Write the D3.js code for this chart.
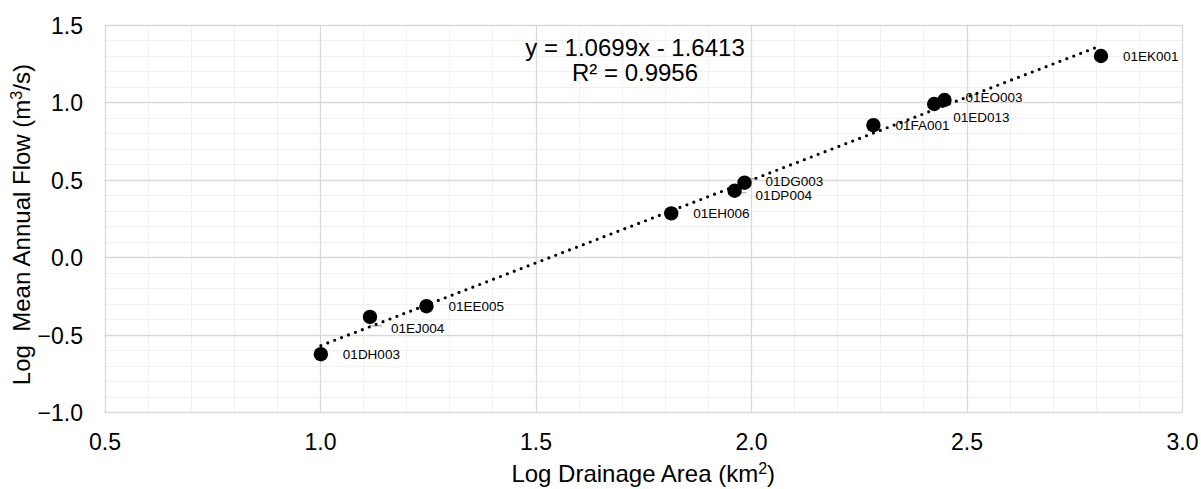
<!DOCTYPE html>
<html>
<head>
<meta charset="utf-8">
<script src="https://cdn.jsdelivr.net/npm/d3@7"></script>
<style>
  html, body { margin: 0; padding: 0; background: #fff; }
  svg { display: block; font-family: "Liberation Sans", Arial, sans-serif; }
</style>
</head>
<body>
<svg id="chart" width="1201" height="489"></svg>
<script>
// ---- data ----
const stations = ["01DH003", "01EJ004", "01EE005", "01EH006", "01DP004", "01DG003", "01FA001", "01ED013", "01EO003", "01EK001"];
const logArea  = [1.002, 1.116, 1.247, 1.815, 1.962, 1.985, 2.284, 2.425, 2.449, 2.812];
const logFlow  = [-0.625, -0.384, -0.315, 0.284, 0.430, 0.482, 0.854, 0.990, 1.016, 1.300];
const xTicks = [0.5, 1.0, 1.5, 2.0, 2.5, 3.0];
const yTicks = [-1.0, -0.5, 0.0, 0.5, 1.0, 1.5];
const trendSlope = 1.0699;
const trendIntercept = -1.6413;
const equationLines = ["y = 1.0699x - 1.6413", "R\u00B2 = 0.9956"];

// ---- label placement tweaks (layout only) ----
const labelNudge = {
  "01EJ004": [21, 11],
  "01DP004": [21, 4],
  "01DG003": [21, -2],
  "01ED013": [19, 13],
  "01EO003": [21, -3]
};
const leaderLabels = new Set(["01EJ004", "01DP004", "01DG003"]);

(function () {
// ---- layout ----
const svg = d3.select("#chart");
const pl = 104.5, pr = 1182, pt = 25, pb = 412.3;
const x = d3.scaleLinear().domain([0.5, 3.0]).range([pl, pr]);
const y = d3.scaleLinear().domain([-1.0, 1.5]).range([pb, pt]);

const minorX = d3.range(5, 31).map(v => v / 10);
const minorY = d3.range(-10, 16).map(v => v / 10);

const grid = svg.append("g");
grid.selectAll("line.mx").data(minorX).enter().append("line")
  .attr("x1", d => Math.round(x(d)) + 0.5).attr("x2", d => Math.round(x(d)) + 0.5)
  .attr("y1", pt).attr("y2", pb)
  .attr("stroke", "#f0f0f0").attr("stroke-width", 1);
grid.selectAll("line.my").data(minorY).enter().append("line")
  .attr("y1", d => Math.round(y(d)) + 0.5).attr("y2", d => Math.round(y(d)) + 0.5)
  .attr("x1", pl).attr("x2", pr)
  .attr("stroke", "#f0f0f0").attr("stroke-width", 1);
grid.selectAll("line.Mx").data(xTicks).enter().append("line")
  .attr("x1", d => Math.round(x(d)) + 0.5).attr("x2", d => Math.round(x(d)) + 0.5)
  .attr("y1", pt).attr("y2", pb)
  .attr("stroke", "#d9d9d9").attr("stroke-width", 1.3);
grid.selectAll("line.My").data(yTicks).enter().append("line")
  .attr("y1", d => Math.round(y(d)) + 0.5).attr("y2", d => Math.round(y(d)) + 0.5)
  .attr("x1", pl).attr("x2", pr)
  .attr("stroke", "#d9d9d9").attr("stroke-width", 1.3);

// axes (labels only)
const fmt = d3.format(".1f");
const xAxis = svg.append("g").attr("transform", `translate(0,${pb})`)
  .call(d3.axisBottom(x).tickValues(xTicks).tickFormat(fmt).tickSize(0).tickPadding(0));
xAxis.select(".domain").remove();
xAxis.selectAll("text").attr("y", 37.8).attr("dy", null)
  .attr("font-size", 23).attr("fill", "#000").attr("font-family", "Liberation Sans, Arial, sans-serif");

const yAxis = svg.append("g").attr("transform", `translate(${pl},0)`)
  .call(d3.axisLeft(y).tickValues(yTicks).tickFormat(fmt).tickSize(0).tickPadding(0));
yAxis.select(".domain").remove();
yAxis.selectAll("text").attr("x", -21.5).attr("dy", "0.36em")
  .attr("font-size", 23).attr("fill", "#000").attr("font-family", "Liberation Sans, Arial, sans-serif");

// axis titles
const xt = svg.append("text").attr("x", (pl + pr) / 2).attr("y", 482)
  .attr("text-anchor", "middle").attr("font-size", 24).attr("fill", "#000");
xt.append("tspan").text("Log Drainage Area (km");
xt.append("tspan").attr("baseline-shift", "super").attr("font-size", 16).text("2");
xt.append("tspan").text(")");

const yt = svg.append("text")
  .attr("transform", `translate(30,${(pt + pb) / 2 + 6}) rotate(-90)`)
  .attr("text-anchor", "middle").attr("font-size", 24).attr("fill", "#000")
  .style("white-space", "pre");
yt.append("tspan").text("Log  Mean Annual Flow (m");
yt.append("tspan").attr("baseline-shift", "super").attr("font-size", 16).text("3");
yt.append("tspan").text("/s)");

// data
const pts = stations.map((s, i) => ({ name: s, x: logArea[i], y: logFlow[i] }));

// leader lines
svg.append("g").selectAll("path").data(pts.filter(d => leaderLabels.has(d.name))).enter()
  .append("path")
  .attr("d", d => {
    const px = x(d.x), py = y(d.y);
    const n = labelNudge[d.name];
    const ly = py + n[1] - 2, lx = px + n[0] - 9;
    return `M${px},${py}V${ly}H${lx}`;
  })
  .attr("fill", "none").attr("stroke", "#a6a6a6").attr("stroke-width", 1.2);

// trend line
const xMin = d3.min(logArea), xMax = d3.max(logArea);
svg.append("line")
  .attr("x1", x(xMin)).attr("y1", y(trendSlope * xMin + trendIntercept))
  .attr("x2", x(xMax)).attr("y2", y(trendSlope * xMax + trendIntercept))
  .attr("stroke", "#000").attr("stroke-width", 3.2)
  .attr("stroke-linecap", "round").attr("stroke-dasharray", "0 7.4");

// points
svg.append("g").selectAll("circle").data(pts).enter().append("circle")
  .attr("cx", d => x(d.x)).attr("cy", d => y(d.y)).attr("r", 7.2).attr("fill", "#000");

// data labels
svg.append("g").selectAll("text").data(pts).enter().append("text")
  .attr("x", d => x(d.x) + (labelNudge[d.name] ? labelNudge[d.name][0] : 22))
  .attr("y", d => y(d.y) + (labelNudge[d.name] ? labelNudge[d.name][1] : 0))
  .attr("dy", "0.36em").attr("font-size", 13.5).attr("fill", "#000")
  .text(d => d.name);

// equation
svg.append("g").selectAll("text").data(equationLines).enter().append("text")
  .attr("x", 635).attr("y", (d, i) => 56 + i * 24.5)
  .attr("text-anchor", "middle").attr("font-size", 24).attr("fill", "#000")
  .text(d => d);
})();
</script>
</body>
</html>
